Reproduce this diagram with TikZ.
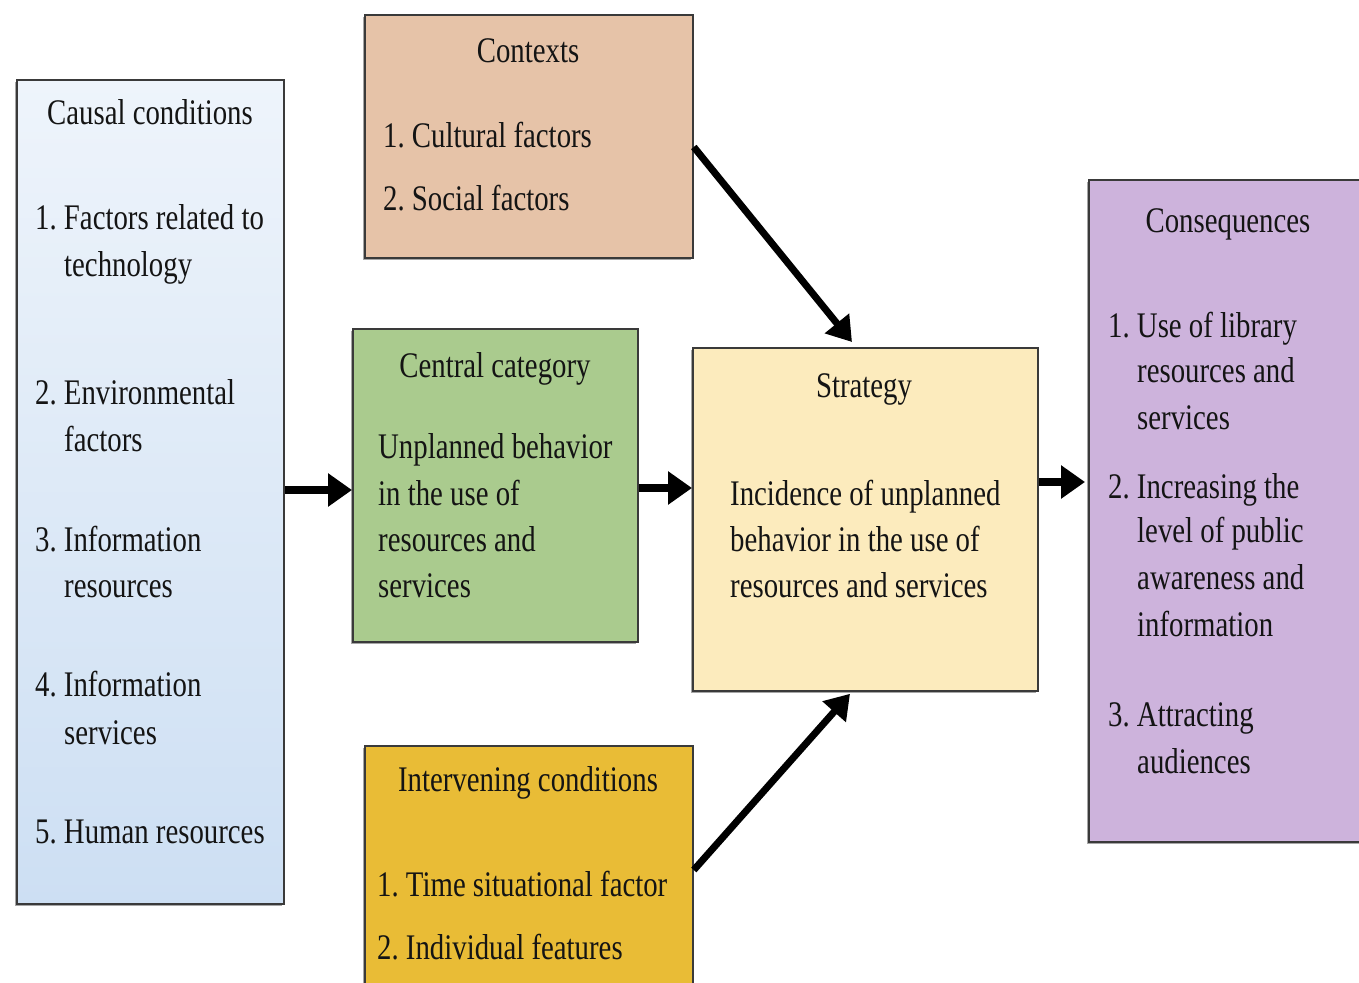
\documentclass[tikz,border=0pt]{standalone}
\usepackage{fontspec}
\setmainfont{Liberation Serif}[FakeStretch=0.80]
\usetikzlibrary{arrows.meta,shadows,calc}
\frenchspacing
\definecolor{ctxfill}{HTML}{E6C3A8}
\definecolor{cenfill}{HTML}{AACB8E}
\definecolor{strfill}{HTML}{FCEBBD}
\definecolor{intfill}{HTML}{E9BC36}
\definecolor{consfill}{HTML}{CDB3DC}
\definecolor{bordercol}{HTML}{3A3A3A}
\definecolor{causaltop}{HTML}{EEF4FB}
\definecolor{causalmid}{HTML}{BAD4EE}
\definecolor{causalbot}{HTML}{CDDFF3}
\tikzset{
  box/.style={draw=bordercol, line width=1.8pt, anchor=north west, inner sep=0pt,
    drop shadow={shadow xshift=-2pt, shadow yshift=-2.5pt, opacity=0.35, fill=black}},
  lbl/.style={anchor=base west, inner sep=0pt, font=\fontsize{36}{40}\selectfont, text=black!92},
  ttl/.style={anchor=base, inner sep=0pt, font=\fontsize{36}{40}\selectfont, text=black!92},
  arr/.style={line width=8.5pt, -{Triangle[length=24pt,width=32pt]}},
  darr/.style={line width=7pt, -{Triangle[length=24pt,width=30pt]}},
}
\begin{document}
\begin{tikzpicture}[x=1pt,y=-1pt]
\useasboundingbox (0,0) rectangle (1359,982);
\clip (0,0) rectangle (1359,982);
% boxes
\node[box, minimum width=267pt, minimum height=824pt, top color=causaltop, middle color=causalmid, bottom color=causalbot] (causal) at (16,79) {};
\node[box, fill=ctxfill, minimum width=328pt, minimum height=243pt] (contexts) at (364,14) {};
\node[box, fill=cenfill, minimum width=285pt, minimum height=313pt] (central) at (352,328) {};
\node[box, fill=strfill, minimum width=345pt, minimum height=343pt] (strategy) at (692,347) {};
\node[box, fill=intfill, minimum width=328pt, minimum height=260pt] (interv) at (364,745) {};
\node[box, fill=consfill, minimum width=290pt, minimum height=662pt] (cons) at (1088,179) {};
% causal texts
\node[ttl] (c0) at (150,124) {Causal conditions};
\node[lbl] (c1) at (35,229) {1. Factors related to};
\node[lbl] (c1b) at (64,276) {technology};
\node[lbl] (c2) at (35,404) {2. Environmental};
\node[lbl] (c2b) at (64,451) {factors};
\node[lbl] (c3) at (35,551) {3. Information};
\node[lbl] (c3b) at (64,597) {resources};
\node[lbl] (c4) at (35,696) {4. Information};
\node[lbl] (c4b) at (64,744) {services};
\node[lbl] (c5) at (35,843) {5. Human resources};
% contexts texts
\node[ttl] (x0) at (528,63) {Contexts};
\node[lbl] (x1) at (383,147) {1. Cultural factors};
\node[lbl] (x2) at (383,210) {2. Social factors};
% central texts
\node[ttl] (m0) at (495,377) {Central category};
\node[lbl] (m1) at (378,458) {Unplanned behavior};
\node[lbl] (m2) at (378,505) {in the use of};
\node[lbl] (m3) at (378,551) {resources and};
\node[lbl] (m4) at (378,597) {services};
% strategy texts
\node[ttl] (s0) at (864,397) {Strategy};
\node[lbl] (s1) at (730,505) {Incidence of unplanned};
\node[lbl] (s2) at (730,551) {behavior in the use of};
\node[lbl] (s3) at (730,597) {resources and services};
% intervening texts
\node[ttl] (i0) at (528,791) {Intervening conditions};
\node[lbl] (i1) at (377,896) {1. Time situational factor};
\node[lbl] (i2) at (377,959) {2. Individual features};
% consequences texts
\node[ttl] (q0) at (1228,232) {Consequences};
\node[lbl] (q1) at (1108,337) {1. Use of library};
\node[lbl] (q1b) at (1137,382) {resources and};
\node[lbl] (q1c) at (1137,429) {services};
\node[lbl] (q2) at (1108,498) {2. Increasing the};
\node[lbl] (q2b) at (1137,542) {level of public};
\node[lbl] (q2c) at (1137,589) {awareness and};
\node[lbl] (q2d) at (1137,636) {information};
\node[lbl] (q3) at (1108,726) {3. Attracting};
\node[lbl] (q3b) at (1137,773) {audiences};
% arrows
\draw[arr] (causal.east |- 0,490) -- (central.west |- 0,490);
\draw[arr] (central.east |- 0,488) -- (strategy.west |- 0,488);
\draw[arr] (strategy.east |- 0,482) -- ($(cons.west |- 0,482)+(-3,0)$);
\draw[darr] (contexts.east |- 0,147) -- ($(strategy.north west)+(160,-5)$);
\draw[darr] (interv.east |- 0,870) -- ($(strategy.south west)+(158,2)$);
\end{tikzpicture}
\end{document}
